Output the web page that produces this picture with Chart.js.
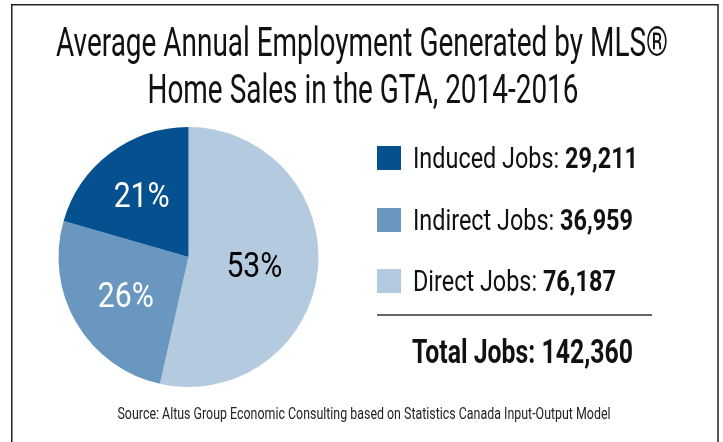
<!DOCTYPE html>
<html>
<head>
<meta charset="utf-8">
<script src="https://cdn.jsdelivr.net/npm/chart.js@4.4.1/dist/chart.umd.min.js"></script>
<style>
  html, body { margin: 0; padding: 0; background: #ffffff; }
  #wrap { position: relative; width: 723px; height: 442px; }
</style>
</head>
<body>
<div id="wrap"><canvas id="c" width="723" height="442"></canvas></div>
<script>
// ---- data ----
const titleLines = ['Average Annual Employment Generated by MLS\u00AE', 'Home Sales in the GTA, 2014-2016'];
const categories = ['Direct Jobs', 'Indirect Jobs', 'Induced Jobs'];
const jobs = [76187, 36959, 29211];
const percentLabels = ['53%', '26%', '21%'];
const totalLabel = 'Total Jobs';
const totalJobs = 142360;
const sourceText = 'Source: Altus Group Economic Consulting based on Statistics Canada Input-Output Model';

// ---- styles ----
const sliceColors = ['#b4cadf', '#6a97bf', '#05508f'];
const labelColors = ['#000000', '#ffffff', '#ffffff'];
const labelRadius = [0.51, 0.56, 0.60];
const FONT = 'Roboto, "Liberation Sans", sans-serif';

function fmt(n) { return n.toLocaleString('en-US'); }

function drawScaled(ctx, parts, x, y, sx, align) {
  let total = 0;
  parts.forEach(p => { ctx.font = `${p.weight} ${p.size}px ${FONT}`; p.w = ctx.measureText(p.text).width; total += p.w; });
  let x0 = align === 'center' ? x - total * sx / 2 : x;
  ctx.save();
  ctx.translate(x0, y);
  ctx.scale(sx, 1);
  ctx.textAlign = 'left';
  ctx.textBaseline = 'alphabetic';
  let cx = 0;
  parts.forEach(p => {
    ctx.font = `${p.weight} ${p.size}px ${FONT}`;
    ctx.fillStyle = p.color;
    ctx.fillText(p.text, cx, 0);
    cx += p.w;
  });
  ctx.restore();
}
function fitFactor(ctx, parts, width) {
  let total = 0;
  parts.forEach(p => { ctx.font = `${p.weight} ${p.size}px ${FONT}`; total += ctx.measureText(p.text).width; });
  return width / total;
}

const decorPlugin = {
  id: 'decor',
  afterDraw(chart) {
    const ctx = chart.ctx;
    // frame
    ctx.save();
    ctx.strokeStyle = '#222222';
    ctx.lineWidth = 1.5;
    ctx.beginPath();
    ctx.moveTo(11.75, 450);
    ctx.lineTo(11.75, 4.75);
    ctx.lineTo(718, 4.75);
    ctx.lineTo(718, 450);
    ctx.stroke();
    ctx.restore();

    // title
    const t1 = [{text: titleLines[0], size: 40, weight: 400, color: '#111111'}];
    const t2 = [{text: titleLines[1], size: 40, weight: 400, color: '#111111'}];
    const tf = fitFactor(ctx, t1, 612);
    drawScaled(ctx, t1, 362, 56, tf, 'center');
    drawScaled(ctx, t2, 363, 103, tf, 'center');

    // legend (reverse order: induced, indirect, direct)
    const order = [2, 1, 0];
    const rowTop = [146, 208, 269];
    const rows = order.map(i => [
      {text: categories[i] + ': ', size: 30, weight: 400, color: '#111111'},
      {text: fmt(jobs[i]), size: 30, weight: 700, color: '#111111'}
    ]);
    const lf = fitFactor(ctx, rows[0], 225);
    order.forEach((i, k) => {
      ctx.fillStyle = sliceColors[i];
      ctx.fillRect(377, rowTop[k], 24, 24);
      drawScaled(ctx, rows[k], 413, rowTop[k] + 22, lf, 'left');
    });

    // separator line
    ctx.save();
    ctx.strokeStyle = '#333333';
    ctx.lineWidth = 1.5;
    ctx.beginPath();
    ctx.moveTo(377, 315);
    ctx.lineTo(652, 315);
    ctx.stroke();
    ctx.restore();

    // total
    const tot = [{text: totalLabel + ': ' + fmt(totalJobs), size: 34, weight: 700, color: '#111111'}];
    drawScaled(ctx, tot, 522.5, 363, fitFactor(ctx, tot, 221), 'center');

    // source
    const src = [{text: sourceText, size: 16, weight: 400, color: '#222222'}];
    drawScaled(ctx, src, 364, 419, fitFactor(ctx, src, 493), 'center');

    // slice labels
    const meta = chart.getDatasetMeta(0);
    meta.data.forEach((arc, i) => {
      const p = arc.getProps(['x', 'y', 'startAngle', 'endAngle', 'outerRadius'], true);
      const mid = (p.startAngle + p.endAngle) / 2;
      const r = p.outerRadius * labelRadius[i];
      const cx = p.x + Math.cos(mid) * r;
      const cy = p.y + Math.sin(mid) * r;
      const parts = [{text: percentLabels[i], size: 35, weight: 400, color: labelColors[i]}];
      drawScaled(ctx, parts, cx, cy + 12.5, fitFactor(ctx, parts, 56), 'center');
    });
  }
};

new Chart(document.getElementById('c'), {
  type: 'pie',
  data: {
    labels: categories,
    datasets: [{
      data: jobs,
      backgroundColor: sliceColors,
      borderWidth: 0
    }]
  },
  options: {
    responsive: false,
    animation: false,
    layout: { padding: { left: 58.5, right: 404.5, top: 127, bottom: 55 } },
    plugins: {
      legend: { display: false },
      title: { display: false },
      tooltip: { enabled: false }
    }
  },
  plugins: [decorPlugin]
});
</script>
</body>
</html>
